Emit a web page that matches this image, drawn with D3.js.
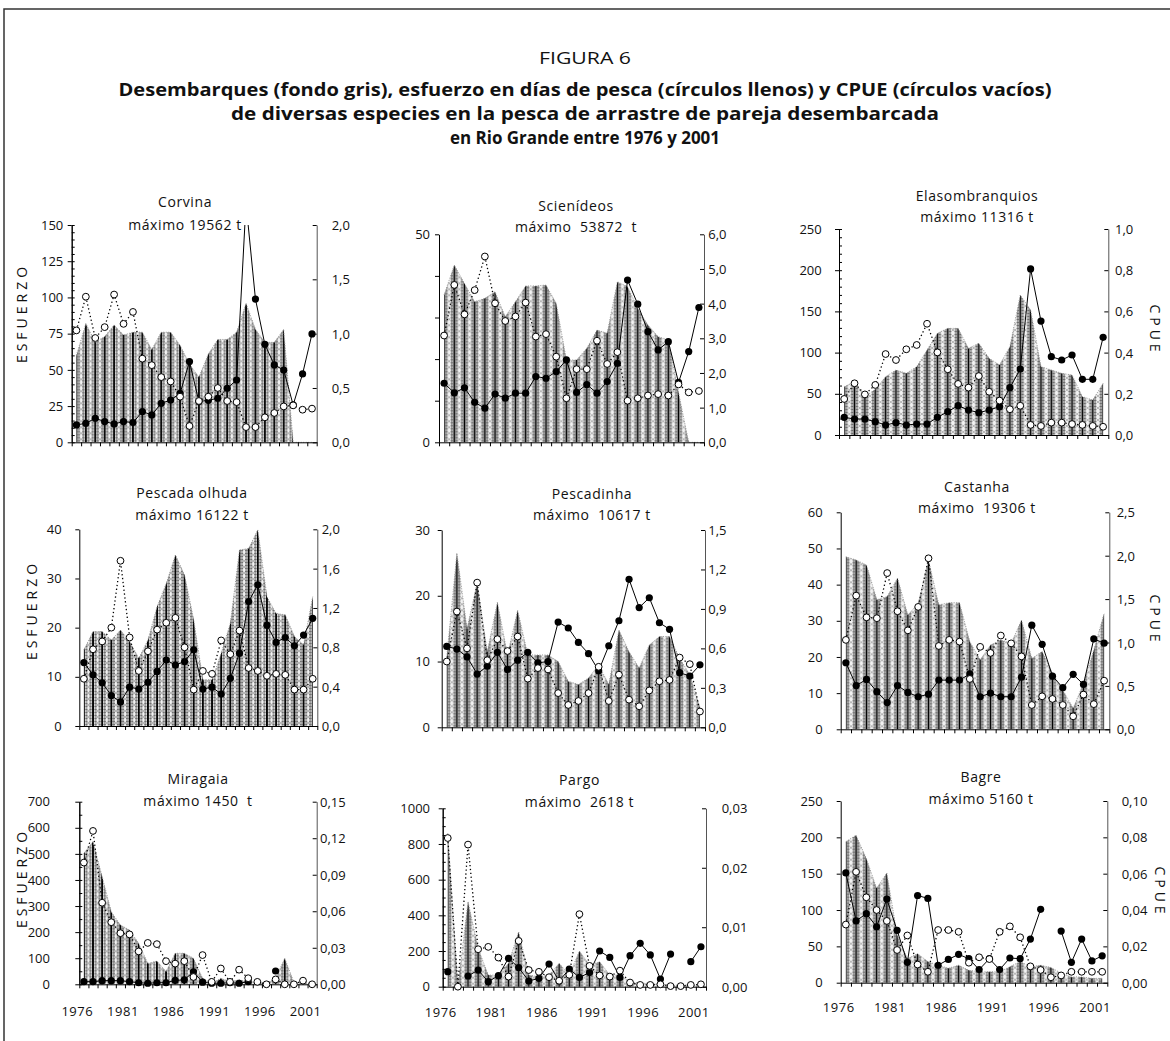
<!DOCTYPE html>
<html>
<head>
<meta charset="utf-8">
<script src="https://cdn.jsdelivr.net/npm/d3@7"></script>
<style>
    body { margin: 0; background: #fff; }
    text { font-family: "Open Sans", "Noto Sans", sans-serif; fill: #111; }
</style>
</head>
<body>
<div id="graph"></div>
<script>
'use strict';

// years on the x axis (one band per year) and the labelled ones
const years = [1976, 1977, 1978, 1979, 1980, 1981, 1982, 1983, 1984, 1985, 1986, 1987, 1988,
    1989, 1990, 1991, 1992, 1993, 1994, 1995, 1996, 1997, 1998, 1999, 2000, 2001];
const yearLabels = [1976, 1981, 1986, 1991, 1996, 2001];

// landings (grey background, read in left-axis units), effort (filled), CPUE (open)
const corvinaLand = [60, 82, 69, 73, 81, 74, 76, 76, 64, 76, 76, 67, 54, 45, 61, 71, 71, 76, 96, 78, 69, 69, 78, 0, 0, 0];
const corvinaEffort = [12, 13.1, 16.6, 14.3, 12.7, 14.3, 13.6, 21.2, 18.9, 26.9, 29.2, 33.8, 55.7, 28.1, 29, 30.4, 37.3, 43, 165, 98.9, 67.6, 53.4, 49.9, 25.8, 47.2, 74.8];
const corvinaCpue = [1.03, 1.34, 0.96, 1.06, 1.36, 1.09, 1.20, 0.77, 0.71, 0.60, 0.56, 0.42, 0.15, 0.38, 0.42, 0.50, 0.38, 0.37, 0.14, 0.14, 0.23, 0.27, 0.33, 0.34, 0.30, 0.31];

const scienLand = [35.4, 42.6, 38.2, 33.8, 34.6, 36.2, 30.2, 33.8, 37.6, 37.6, 37.8, 33.4, 19.8, 19.8, 22.6, 27.0, 26.2, 38.6, 37.4, 32.2, 28.2, 25.4, 24.6, 12, 0, 0];
const scienEffort = [14.2, 11.9, 13.1, 9.6, 8.2, 11.6, 10.6, 11.8, 11.8, 15.8, 15.4, 17.0, 19.8, 12.0, 13.9, 11.8, 14.6, 19.0, 39.0, 33.2, 26.6, 22.2, 24.2, 14.4, 21.8, 32.4];
const scienCpue = [3.08, 4.54, 3.69, 4.39, 5.36, 4.01, 3.50, 3.63, 4.03, 3.05, 3.12, 2.47, 1.27, 2.11, 2.11, 2.93, 2.26, 2.60, 1.20, 1.27, 1.35, 1.39, 1.35, 1.67, 1.44, 1.48];

const elasmoLand = [58.7, 64.7, 46.5, 55.4, 70.8, 78.9, 74.8, 82.9, 103.2, 123.4, 129.4, 129.4, 105.2, 111.2, 93.0, 85.0, 107.2, 169.9, 151.7, 82.9, 78.9, 74.8, 72.8, 46.5, 42.5, 62.7];
const elasmoEffort = [21.4, 19.4, 19.4, 16.2, 12.1, 15.0, 12.1, 13.3, 13.3, 21.4, 28.3, 35.6, 30.3, 27.1, 30.3, 34.4, 57.4, 80.1, 201.5, 138.3, 95.1, 91.0, 97.1, 67.6, 67.6, 118.5];
const elasmoCpue = [0.175, 0.251, 0.197, 0.243, 0.393, 0.364, 0.416, 0.437, 0.540, 0.401, 0.319, 0.248, 0.230, 0.286, 0.210, 0.167, 0.125, 0.142, 0.049, 0.044, 0.060, 0.060, 0.053, 0.049, 0.044, 0.040];

const olhudaLand = [15.5, 19.2, 19.2, 17.5, 19.5, 17.2, 13.8, 17.5, 24.3, 29.0, 34.8, 30.7, 21.6, 9.4, 9.4, 14.8, 20.9, 35.8, 36.1, 39.9, 26.3, 22.9, 22.6, 18.2, 16.5, 26.3];
const olhudaEffort = [12.9, 10.4, 8.8, 6.2, 4.9, 7.9, 7.5, 8.9, 11.1, 13.4, 12.4, 13.1, 15.5, 7.5, 7.9, 6.5, 9.7, 14.8, 25.3, 28.7, 20.5, 17.0, 18.0, 16.3, 18.5, 21.9];
const olhudaCpue = [0.48, 0.78, 0.86, 1.00, 1.68, 0.90, 0.56, 0.76, 0.98, 1.05, 1.10, 0.80, 0.37, 0.56, 0.53, 0.87, 0.73, 0.97, 0.59, 0.56, 0.51, 0.53, 0.52, 0.37, 0.37, 0.48];

const pescadinhaLand = [10.7, 26.5, 15, 22, 11.5, 19, 11, 17.8, 11, 11, 11, 10, 7, 6.5, 7.5, 9.5, 6.5, 14.8, 11.5, 9, 12.5, 13.8, 13.8, 10.5, 8, 3];
const pescadinhaEffort = [12.3, 11.9, 10.7, 8.1, 9.3, 11.4, 8.8, 10.2, 11.4, 9.8, 10.0, 16.0, 15.1, 12.9, 11.2, 8.6, 12.4, 16.2, 22.5, 18.2, 19.7, 15.9, 14.9, 8.3, 7.8, 9.5];
const pescadinhaCpue = [0.50, 0.88, 0.60, 1.10, 0.51, 0.67, 0.58, 0.69, 0.37, 0.45, 0.44, 0.26, 0.17, 0.20, 0.26, 0.46, 0.20, 0.40, 0.21, 0.16, 0.28, 0.35, 0.36, 0.53, 0.48, 0.12];

const castanhaLand = [47.7, 46.8, 45.4, 35.8, 36.7, 41.8, 31.6, 34.8, 46.8, 34.4, 35.0, 35.0, 24.2, 19.2, 23.3, 24.7, 23.8, 30.2, 19.6, 21.5, 15.5, 10.9, 5.8, 12.7, 21.9, 32.1];
const castanhaEffort = [18.4, 12.1, 13.8, 10.4, 7.4, 12.1, 10.2, 9.0, 9.7, 13.6, 13.6, 13.6, 15.3, 9.0, 10.0, 9.0, 9.0, 14.4, 28.8, 23.5, 14.7, 11.5, 15.2, 12.4, 25.0, 23.8];
const castanhaCpue = [1.03, 1.54, 1.29, 1.28, 1.80, 1.36, 1.14, 1.41, 1.97, 0.96, 1.03, 1.01, 0.58, 0.95, 0.88, 1.08, 0.99, 0.84, 0.28, 0.38, 0.35, 0.28, 0.15, 0.40, 0.29, 0.56];

const miragaiaLand = [502, 547, 413, 278, 227, 208, 157, 80, 89, 49, 119, 119, 100, 23, 4, 23, 10, 17, 10, 8, 4, 23, 100, 8, 8, 0];
const miragaiaEffort = [10, 10, 14, 14, 14, 10, 6, 4, 6, 6, 15, 17, 48, 8, 4, 4, 6, 4, 10, null, null, 51, null, null, null, null];
const miragaiaCpue = [0.100, 0.126, 0.067, 0.051, 0.042, 0.041, 0.027, 0.034, 0.033, 0.019, 0.017, 0.019, 0.006, 0.024, 0.002, 0.013, 0.002, 0.012, 0.005, 0.002, 0.000, 0.004, 0.000, 0.000, 0.003, 0.000];

const pargoLand = [860, 0, 477, 215, 65, 65, 131, 308, 65, 56, 65, 131, 65, 200, 121, 140, 65, 65, 28, 19, 19, 13, 9, 9, 9, 9];
const pargoEffort = [84, null, 60, 93, 28, 62, 159, 107, 32, 47, 127, 32, 99, 52, 79, 200, 164, 52, 174, 243, 178, 43, 183, null, 140, 224];
const pargoCpue = [0.0250, 0.0000, 0.0239, 0.0063, 0.0067, 0.0049, 0.0017, 0.0077, 0.0028, 0.0025, 0.0016, 0.0010, 0.0020, 0.0122, 0.0035, 0.0019, 0.0017, 0.0027, 0.0007, 0.0003, 0.0003, 0.0004, 0.0001, 0.0001, 0.0003, 0.0004];

const bagreLand = [194, 203, 171, 130, 151, 66, 33, 40, 29, 24, 20, 24, 17, 15, 15, 15, 22, 29, 22, 24, 21, 13, 8, 8, 6, 6];
const bagreEffort = [151, 85, 95, 77, 115, 72, 28, 120, 116, 24, 32, 39, 33, 18, 33, 18, 34, 33, 60, 101, null, 71, 28, 60, 30, 37];
const bagreCpue = [0.032, 0.061, 0.047, 0.040, 0.034, 0.018, 0.026, 0.010, 0.006, 0.029, 0.029, 0.028, 0.011, 0.014, 0.013, 0.028, 0.031, 0.025, 0.009, 0.007, 0.003, 0.004, 0.006, 0.006, 0.006, 0.006];

// panel titles
const speciesNames = ['Corvina', 'Scienídeos', 'Elasombranquios', 'Pescada olhuda', 'Pescadinha', 'Castanha', 'Miragaia', 'Pargo', 'Bagre'];
const maxTexts = ['máximo 19562 t', 'máximo  53872  t', 'máximo 11316 t', 'máximo 16122 t', 'máximo  10617 t',
    'máximo  19306 t', 'máximo 1450  t', 'máximo  2618 t', 'máximo 5160 t'];

// left axis: domain max, ticks, labelled ticks, inner minor step
const leftMax = [150, 50, 250, 40, 30, 60, 700, 1000, 250];
const leftTicks = [
    [0, 25, 50, 75, 100, 125, 150],
    [0, 10, 20, 30, 40, 50],
    [0, 50, 100, 150, 200, 250],
    [0, 10, 20, 30, 40],
    [0, 10, 20, 30],
    [0, 10, 20, 30, 40, 50, 60],
    [0, 100, 200, 300, 400, 500, 600, 700],
    [0, 200, 400, 600, 800, 1000],
    [0, 50, 100, 150, 200, 250]
];
const leftLabelled = [
    [0, 25, 50, 75, 100, 125, 150],
    [0, 50],
    [0, 50, 100, 150, 200, 250],
    [0, 10, 20, 30, 40],
    [0, 10, 20, 30],
    [0, 10, 20, 30, 40, 50, 60],
    [0, 100, 200, 300, 400, 500, 600, 700],
    [0, 200, 400, 600, 800, 1000],
    [0, 50, 100, 150, 200, 250]
];
const leftMinor = [5, 0, 10, 0, 0, 0, 50, 50, 0];

// right (CPUE) axis
const rightTicks = [
    [0, 0.5, 1.0, 1.5, 2.0],
    [0, 1, 2, 3, 4, 5, 6],
    [0, 0.2, 0.4, 0.6, 0.8, 1.0],
    [0, 0.4, 0.8, 1.2, 1.6, 2.0],
    [0, 0.3, 0.6, 0.9, 1.2, 1.5],
    [0, 0.5, 1.0, 1.5, 2.0, 2.5],
    [0, 0.03, 0.06, 0.09, 0.12, 0.15],
    [0, 0.01, 0.02, 0.03],
    [0, 0.02, 0.04, 0.06, 0.08, 0.10]
];
const rightDecimals = [1, 1, 1, 1, 1, 1, 2, 2, 2];

const landSeries = [corvinaLand, scienLand, elasmoLand, olhudaLand, pescadinhaLand, castanhaLand, miragaiaLand, pargoLand, bagreLand];
const effortSeries = [corvinaEffort, scienEffort, elasmoEffort, olhudaEffort, pescadinhaEffort, castanhaEffort, miragaiaEffort, pargoEffort, bagreEffort];
const cpueSeries = [corvinaCpue, scienCpue, elasmoCpue, olhudaCpue, pescadinhaCpue, castanhaCpue, miragaiaCpue, pargoCpue, bagreCpue];

// layout of each panel (plot box, title centre, label columns)
const boxes = [
    {x0: 71.7, x1: 316.7, top: 225, bot: 442.3, tx: 185, ty: 201.7, ty2: 224, lx: 63.3, rx: 331.7},
    {x0: 439, x1: 704, top: 234.3, bot: 442.3, tx: 576, ty: 205, ty2: 226, lx: 430, rx: 708.3},
    {x0: 839, x1: 1108.3, top: 229, bot: 435, tx: 977, ty: 195, ty2: 216.7, lx: 821.7, rx: 1115},
    {x0: 79.3, x1: 317.3, top: 529.3, bot: 726, tx: 192, ty: 492.7, ty2: 514.3, lx: 61.7, rx: 321.7},
    {x0: 441.7, x1: 705, top: 530, bot: 727.3, tx: 592, ty: 493.3, ty2: 514.3, lx: 430, rx: 708.3},
    {x0: 840.7, x1: 1109.3, top: 512.3, bot: 729.3, tx: 977, ty: 486, ty2: 507.3, lx: 822.7, rx: 1116.7},
    {x0: 79.3, x1: 316.7, top: 801.7, bot: 984.3, tx: 198, ty: 778.3, ty2: 800, lx: 50, rx: 320},
    {x0: 442.7, x1: 706, top: 808.3, bot: 986.7, tx: 579.5, ty: 779.3, ty2: 801.7, lx: 430, rx: 721.7},
    {x0: 840.7, x1: 1107.3, top: 801, bot: 982.7, tx: 981, ty: 776, ty2: 798.3, lx: 822.7, rx: 1121.7}
];
const yearLabelY = [null, null, null, null, null, null, 1010.7, 1011.7, 1007.3];
const esfuerzoPos = [{x: 21.7, y: 313}, {x: 31.7, y: 610}, {x: 21.7, y: 878}];
const cpuePos = [{x: 1155, y: 330}, {x: 1155, y: 620}, {x: 1160, y: 892}];

const measurements = {width: 1170, height: 1041};

const svg = d3.select('#graph')
    .append('svg')
    .attr('width', measurements.width)
    .attr('height', measurements.height);

const defs = svg.append('defs');

// frame
svg.append('path')
    .attr('d', 'M4,1041 L4,9 L1170,9')
    .attr('fill', 'none')
    .attr('stroke', '#333')
    .attr('stroke-width', 1.5);

// heading
const heading = [
    {t: 'FIGURA 6', y: 57, w: 'normal', len: 92},
    {t: 'Desembarques (fondo gris), esfuerzo en días de pesca (círculos llenos) y CPUE (círculos vacíos)', y: 89, w: 'bold', len: 933},
    {t: 'de diversas especies en la pesca de arrastre de pareja desembarcada', y: 113, w: 'bold', len: 708},
    {t: 'en Rio Grande entre 1976 y 2001', y: 137, w: 'bold', len: 270}
];
svg.selectAll('.heading')
    .data(heading)
    .enter()
    .append('text')
    .attr('class', 'heading')
    .attr('x', 585)
    .attr('y', d => d.y)
    .attr('text-anchor', 'middle')
    .attr('dominant-baseline', 'central')
    .attr('font-size', d => d.w === 'bold' ? 18 : 17)
    .attr('font-weight', d => d.w)
    .attr('textLength', d => d.len)
    .attr('lengthAdjust', 'spacingAndGlyphs')
    .text(d => d.t);

function comma(dec) {
    let f = d3.format('.' + dec + 'f');
    return d => f(d).replace('.', ',');
}

boxes.forEach((b, i) => drawPanel(i, b));

function drawPanel(i, b) {
    let g = svg.append('g').attr('class', 'panel');
    let n = years.length;
    let step = (b.x1 - b.x0) / n;

    // x: linear over years so the ticks fall between the bands
    let x = d3.scaleLinear().domain([years[0], years[n - 1] + 1]).range([b.x0, b.x1]);
    let xc = (yr) => x(yr + 0.5);
    let yL = d3.scaleLinear().domain([0, leftMax[i]]).range([b.bot, b.top]);
    let rt = rightTicks[i];
    let yR = d3.scaleLinear().domain([0, rt[rt.length - 1]]).range([b.bot, b.top]);

    // hatch pattern for the landings
    let pat = defs.append('pattern')
        .attr('id', 'hatch' + i)
        .attr('patternUnits', 'userSpaceOnUse')
        .attr('x', b.x0)
        .attr('y', b.bot)
        .attr('width', step)
        .attr('height', 6);
    pat.append('rect').attr('width', step).attr('height', 6).attr('fill', '#f2f2f2');
    [[step / 2 - 2.5, 1.5], [step / 2 + 2.5, 1.5], [step / 2 - 2.5, 4.5], [step / 2 + 2.5, 4.5]].forEach(p => {
        pat.append('circle').attr('cx', p[0]).attr('cy', p[1]).attr('r', 1.2).attr('fill', '#6e6e6e');
    });
    [[0, 3], [step, 3]].forEach(p => {
        pat.append('circle').attr('cx', p[0]).attr('cy', p[1]).attr('r', 1).attr('fill', '#a8a8a8');
    });
    pat.append('line')
        .attr('x1', step / 2).attr('x2', step / 2)
        .attr('y1', 0).attr('y2', 6)
        .attr('stroke', '#000').attr('stroke-width', 1.8);

    let land = years.map((yr, k) => ({yr: yr, v: landSeries[i][k]}));
    g.append('path')
        .datum(land)
        .attr('fill', 'url(#hatch' + i + ')')
        .attr('d', d3.area().x(d => xc(d.yr)).y0(b.bot).y1(d => yL(d.v)));
    g.append('path')
        .datum(land)
        .attr('fill', 'none')
        .attr('stroke', '#9a9a9a')
        .attr('stroke-width', 1)
        .attr('stroke-dasharray', '1,1.5')
        .attr('d', d3.line().x(d => xc(d.yr)).y(d => yL(d.v)));

    // axes
    let ld = leftLabelled[i];
    g.append('g')
        .attr('transform', 'translate(' + b.x0 + ',0)')
        .call(d3.axisLeft(yL).tickValues(leftTicks[i]).tickSize(4).tickSizeOuter(0)
            .tickPadding(b.x0 - b.lx - 4)
            .tickFormat(d => ld.includes(d) ? d : ''));
    if (leftMinor[i] > 0) {
        g.append('g')
            .attr('transform', 'translate(' + b.x0 + ',0)')
            .call(d3.axisRight(yL).tickValues(d3.range(0, leftMax[i] + 0.001, leftMinor[i]))
                .tickSize(3).tickSizeOuter(0).tickFormat(''));
    }

    let ra = g.append('g')
        .attr('transform', 'translate(' + b.x1 + ',0)')
        .call(d3.axisLeft(yR).tickValues(rt).tickSize(4).tickSizeOuter(0).tickFormat(''));
    ra.select('.domain').attr('stroke', '#555');
    let fmt = comma(rightDecimals[i]);
    g.selectAll('.rlab')
        .data(rt)
        .enter()
        .append('text')
        .attr('class', 'rlab')
        .attr('x', b.rx)
        .attr('y', d => yR(d))
        .attr('dominant-baseline', 'central')
        .attr('font-size', 13)
        .text(fmt);

    let tickYears = years.concat([years[n - 1] + 1]);
    g.append('g')
        .attr('transform', 'translate(0,' + b.bot + ')')
        .call(d3.axisBottom(x).tickValues(tickYears).tickSize(4).tickSizeOuter(0).tickFormat(''));

    g.selectAll('.tick text').attr('font-size', 13).attr('font-family', '"Open Sans", sans-serif').attr('fill', '#111');

    if (yearLabelY[i] !== null) {
        g.selectAll('.ylab')
            .data(yearLabels)
            .enter()
            .append('text')
            .attr('class', 'ylab')
            .attr('x', d => x(d) - 2)
            .attr('y', yearLabelY[i])
            .attr('text-anchor', 'middle')
            .attr('dominant-baseline', 'central')
            .attr('font-size', 13)
            .attr('letter-spacing', 0.5)
            .text(d => d);
    }

    // series
    let clipId = 'clip' + i;
    defs.append('clipPath').attr('id', clipId)
        .append('rect')
        .attr('x', b.x0 - 10).attr('y', b.top)
        .attr('width', b.x1 - b.x0 + 20).attr('height', b.bot - b.top + 10);
    let s = g.append('g').attr('clip-path', 'url(#' + clipId + ')');

    let cpue = years.map((yr, k) => ({yr: yr, v: cpueSeries[i][k]}));
    let effort = years.map((yr, k) => ({yr: yr, v: effortSeries[i][k]}));

    s.append('path')
        .datum(cpue)
        .attr('fill', 'none')
        .attr('stroke', '#000')
        .attr('stroke-width', 1.3)
        .attr('stroke-dasharray', '1.3,2.6')
        .attr('d', d3.line().defined(d => d.v != null).x(d => xc(d.yr)).y(d => yR(d.v)));

    s.append('path')
        .datum(effort)
        .attr('fill', 'none')
        .attr('stroke', '#000')
        .attr('stroke-width', 1)
        .attr('d', d3.line().defined(d => d.v != null).x(d => xc(d.yr)).y(d => yL(d.v)));

    s.selectAll('.eff')
        .data(effort.filter(d => d.v != null))
        .enter()
        .append('circle')
        .attr('class', 'eff')
        .attr('cx', d => xc(d.yr))
        .attr('cy', d => yL(d.v))
        .attr('r', 3.6)
        .attr('fill', '#000');

    s.selectAll('.cp')
        .data(cpue.filter(d => d.v != null))
        .enter()
        .append('circle')
        .attr('class', 'cp')
        .attr('cx', d => xc(d.yr))
        .attr('cy', d => yR(d.v))
        .attr('r', 3.4)
        .attr('fill', '#fff')
        .attr('stroke', '#000')
        .attr('stroke-width', 1);

    // titles
    g.append('text')
        .attr('x', b.tx).attr('y', b.ty)
        .attr('text-anchor', 'middle')
        .attr('dominant-baseline', 'central')
        .attr('font-size', 14)
        .attr('letter-spacing', 0.6)
        .text(speciesNames[i]);
    g.append('text')
        .attr('x', b.tx).attr('y', b.ty2)
        .attr('text-anchor', 'middle')
        .attr('dominant-baseline', 'central')
        .attr('font-size', 14)
        .attr('letter-spacing', 0.6)
        .style('white-space', 'pre')
        .text(maxTexts[i]);

    if (i % 3 === 0) {
        let p = esfuerzoPos[i / 3];
        g.append('text')
            .attr('transform', 'translate(' + p.x + ',' + p.y + ')rotate(-90)')
            .attr('text-anchor', 'middle')
            .attr('dominant-baseline', 'central')
            .attr('font-size', 14)
            .attr('letter-spacing', 4)
            .text('ESFUERZO');
    }
    if (i % 3 === 2) {
        let p = cpuePos[(i - 2) / 3];
        g.append('text')
            .attr('transform', 'translate(' + p.x + ',' + p.y + ')rotate(90)')
            .attr('text-anchor', 'middle')
            .attr('dominant-baseline', 'central')
            .attr('font-size', 14)
            .attr('letter-spacing', 4)
            .text('CPUE');
    }
}
</script>
</body>
</html>
